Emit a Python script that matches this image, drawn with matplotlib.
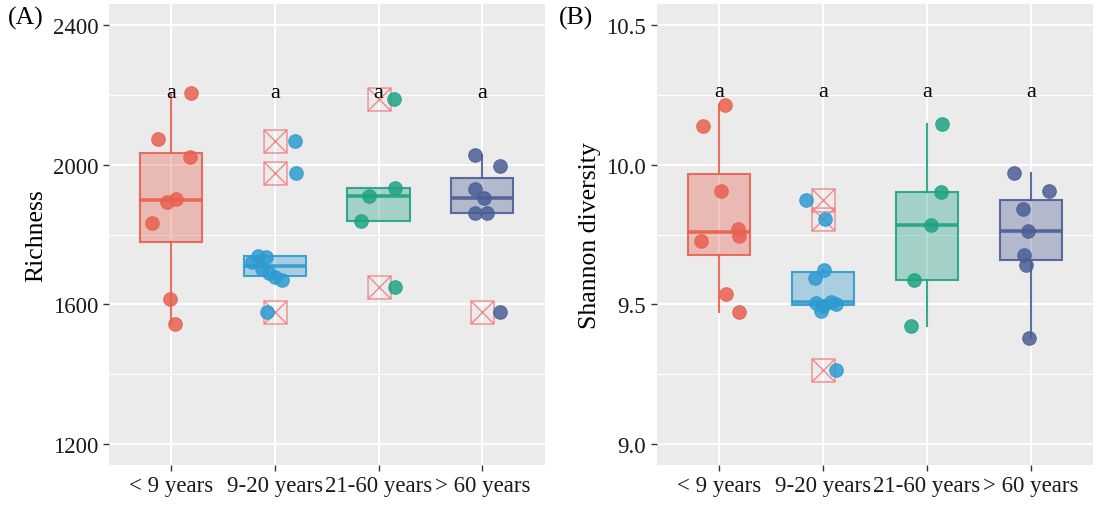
import numpy as np
import matplotlib
matplotlib.use('Agg')
import matplotlib.pyplot as plt
from matplotlib.path import Path
from matplotlib.ticker import MultipleLocator

plt.rcParams['font.family'] = ['Liberation Serif', 'DejaVu Serif']

# categories and colours
groups = ['< 9 years', '9-20 years', '21-60 years', '> 60 years']
colors = ['#E8604F', '#2E9AD0', '#1FA384', '#4B5E95']
outlier_color = '#F08A8A'

# (A) richness per sample
rich_lt9 = [2204, 2074, 2021, 1903, 1892, 1833, 1614, 1544]
rich_9_20 = [2067, 1975, 1738, 1735, 1722, 1700, 1690, 1679, 1670, 1579]
rich_21_60 = [2188, 1933, 1910, 1838, 1649]
rich_gt60 = [2027, 1995, 1930, 1905, 1862, 1862, 1579]

# (B) Shannon diversity per sample
shan_lt9 = [10.212, 10.140, 9.907, 9.771, 9.745, 9.726, 9.536, 9.474]
shan_9_20 = [9.875, 9.807, 9.622, 9.593, 9.510, 9.505, 9.500, 9.495, 9.475, 9.265]
shan_21_60 = [10.146, 9.902, 9.783, 9.589, 9.421]
shan_gt60 = [9.971, 9.906, 9.840, 9.763, 9.676, 9.640, 9.379]

# horizontal jitter of each point (as seen in the figure)
jit_rich = [[0.19, -0.13, 0.18, 0.05, -0.04, -0.18, -0.01, 0.04],
            [0.19, 0.20, -0.16, -0.09, -0.22, -0.12, -0.06, 0.0, 0.07, -0.08],
            [0.15, 0.16, -0.09, -0.17, 0.16],
            [-0.07, 0.17, -0.07, 0.02, -0.07, 0.05, 0.17]]
jit_shan = [[0.06, -0.15, 0.02, 0.18, 0.19, -0.17, 0.07, 0.19],
            [-0.16, 0.02, 0.01, -0.08, 0.08, -0.07, 0.12, 0.0, -0.02, 0.12],
            [0.14, 0.13, 0.04, -0.13, -0.15],
            [-0.16, 0.17, -0.08, -0.03, -0.07, -0.05, -0.02]]

letters = ['a', 'a', 'a', 'a']

# square with a cross, like ggplot shape 7
sq_cross = Path([(-1, -1), (1, -1), (1, 1), (-1, 1), (-1, -1),
                 (-1, -1), (1, 1), (-1, 1), (1, -1)],
                [Path.MOVETO, Path.LINETO, Path.LINETO, Path.LINETO, Path.CLOSEPOLY,
                 Path.MOVETO, Path.LINETO, Path.MOVETO, Path.LINETO])


def panel(ax, data, jitter, ylim, yticks, minor, ylabel, letter_y):
    ax.set_facecolor('#EBEBEB')
    pos = np.arange(1, len(groups) + 1)
    bp = ax.boxplot(data, positions=pos, widths=0.6, patch_artist=True,
                    showfliers=True, whis=1.5, showcaps=False)
    for i, c in enumerate(colors):
        bp['boxes'][i].set(facecolor=matplotlib.colors.to_rgba(c, 0.35),
                           edgecolor=matplotlib.colors.to_rgba(c, 0.9), linewidth=1.5, zorder=3)
        bp['medians'][i].set(color=matplotlib.colors.to_rgba(c, 0.9), linewidth=2.6, zorder=3.5)
        for w in bp['whiskers'][2 * i:2 * i + 2]:
            w.set(color=matplotlib.colors.to_rgba(c, 0.9), linewidth=1.5, zorder=3)
        fl = bp['fliers'][i]
        fl.set(marker=sq_cross, markersize=16.5, markerfacecolor='none',
               markeredgecolor=outlier_color, markeredgewidth=1.0, zorder=3)
        ax.scatter(pos[i] + np.array(jitter[i]), data[i], s=95, color=c,
                   alpha=0.85, edgecolors=c, linewidths=0.8, zorder=4)
        ax.text(pos[i], letter_y, letters[i], ha='center', va='center',
                fontsize=16, color='black', zorder=5)

    ax.set_xlim(0.4, 4.6)
    ax.set_ylim(*ylim)
    ax.set_xticks(pos)
    ax.set_xticklabels(groups, fontsize=16.5, color='#1A1A1A')
    ax.set_yticks(yticks)
    ax.yaxis.set_minor_locator(MultipleLocator(minor))
    ax.tick_params(axis='y', labelsize=16.5, labelcolor='#1A1A1A')
    ax.tick_params(which='major', length=4, width=1, color='#333333')
    ax.tick_params(which='minor', length=0)
    ax.grid(True, which='major', color='white', linewidth=1.4, zorder=0)
    ax.grid(True, which='minor', axis='y', color='white', linewidth=0.7, zorder=0)
    ax.set_axisbelow(True)
    for s in ax.spines.values():
        s.set_visible(False)
    ax.set_ylabel(ylabel, fontsize=18.5)


fig = plt.figure(figsize=(11, 5.06), dpi=100)
axA = fig.add_axes([0.099, 0.079, 0.396, 0.911])
axB = fig.add_axes([0.597, 0.079, 0.397, 0.911])

panel(axA, [rich_lt9, rich_9_20, rich_21_60, rich_gt60], jit_rich,
      (1140, 2460), [1200, 1600, 2000, 2400], 200, 'Richness', 2208)
panel(axB, [shan_lt9, shan_9_20, shan_21_60, shan_gt60], jit_shan,
      (8.925, 10.575), [9.0, 9.5, 10.0, 10.5], 0.25, 'Shannon diversity', 10.262)
axB.set_yticklabels(['9.0', '9.5', '10.0', '10.5'])

fig.text(0.007, 0.952, '(A)', fontsize=18.5)
fig.text(0.508, 0.952, '(B)', fontsize=18.5)

fig.savefig('out.png', dpi=100)
